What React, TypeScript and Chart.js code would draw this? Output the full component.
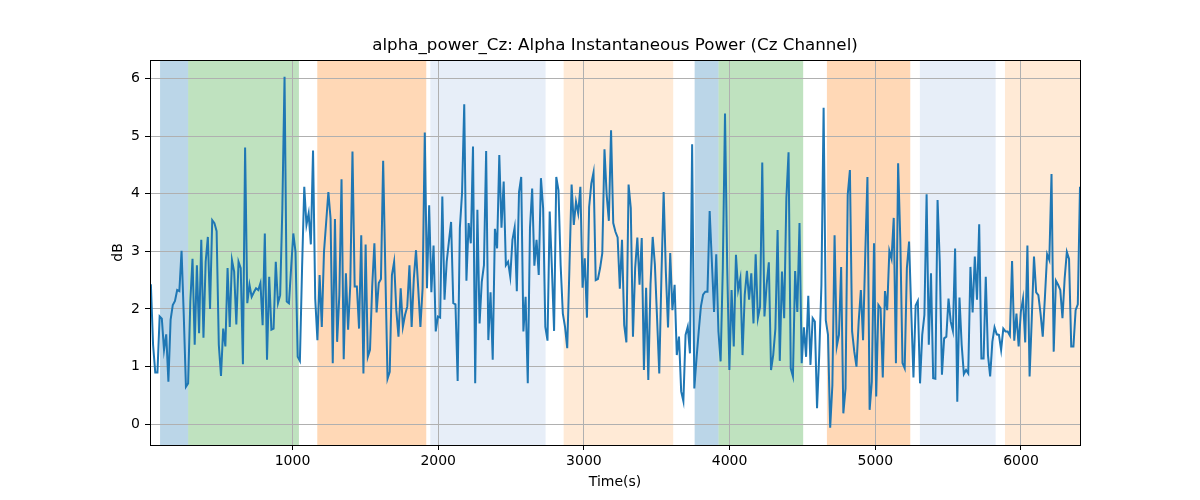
import { useEffect, useRef } from "react"
import { Chart, registerables } from "chart.js"

Chart.register(...registerables)

const TITLE = "alpha_power_Cz: Alpha Instantaneous Power (Cz Channel)"

// sample grid (seconds)
const X_MIN = 22
const START_TIME = 28
const STEP = 15.04

// alpha power (dB) left to right
const alphaPower = [
  2.43, 1.38, 0.9, 0.9, 1.87, 1.83, 1.29, 1.56, 0.74, 1.81, 2.07, 2.14, 2.33, 2.31, 3.01, 1.9, 0.65, 0.71, 2.13, 2.87, 1.38,
  2.76, 1.58, 3.2, 1.5, 2.82, 3.25, 2.0, 3.54, 3.49, 3.35, 1.38, 0.84, 1.66, 1.35, 2.71, 1.69, 2.85, 2.65, 1.73, 2.82,
  2.71, 1.04, 4.8, 2.1, 2.42, 2.21, 2.29, 2.36, 2.33, 2.45, 1.72, 3.31, 1.12, 2.56, 1.64, 1.66, 2.82, 2.1, 2.24, 3.75,
  6.03, 2.13, 2.1, 2.71, 3.31, 2.99, 1.17, 1.1, 2.71, 4.12, 3.46, 3.66,
  3.12, 4.75, 2.18, 1.46, 2.59, 1.69, 2.99, 3.51, 4.03, 3.57, 1.06, 3.56, 1.43, 2.24, 4.25, 1.13, 2.62, 1.64, 2.42, 4.73,
  2.39, 2.39, 1.66, 3.28, 0.88, 3.12, 1.17, 1.29, 2.39, 3.14, 1.94, 2.45, 2.52, 4.57, 2.65, 0.79, 0.91, 2.59, 2.82, 1.98,
  1.52, 2.36, 1.69, 1.9, 2.04, 2.76, 1.69, 2.53, 3.02, 2.36, 1.69, 2.36, 5.06, 2.36, 3.8, 2.29, 3.1, 1.61, 1.87, 1.85,
  3.95, 2.16, 2.82, 3.17, 3.51, 2.1, 2.08, 0.75, 3.4, 4.01, 5.55, 2.49, 3.49,
  3.14, 4.82, 0.71, 3.72, 1.75, 2.47, 2.76, 4.74, 1.46, 2.29, 1.12, 3.39, 3.05, 4.67, 3.41, 4.21, 2.76, 2.82, 2.56, 3.2,
  3.41, 2.31, 4.03, 4.29, 1.61, 2.21, 0.71, 3.4, 4.09, 2.75, 3.2, 2.59, 4.27, 3.75, 1.69, 1.45, 3.69, 2.71, 1.62, 4.29,
  4.06, 2.76, 1.92, 1.69, 1.32, 2.71, 4.16, 3.46, 3.86, 3.66, 4.12, 2.37, 2.88, 1.85, 3.77, 4.18, 4.37, 2.5, 2.52, 2.71,
  2.97, 4.77, 3.98, 3.53, 5.1, 3.49, 3.34, 3.24, 2.35, 3.2, 1.72, 1.42, 4.16,
  3.75, 1.52, 2.71, 3.24, 2.42, 3.23, 0.94, 2.37, 0.77, 2.42, 3.25, 2.77, 1.84, 0.88, 2.59, 4.03, 2.65, 1.68, 2.97, 1.98,
  2.42, 1.2, 1.52, 0.57, 0.4, 1.55, 1.69, 1.23, 4.86, 0.62, 1.14, 1.61, 2.04, 2.25, 2.3, 2.3, 3.7, 2.82, 1.95, 2.95,
  1.61, 1.09, 2.71, 5.39, 2.73, 0.94, 2.33, 1.35, 2.94, 2.33, 2.53, 1.2, 2.24, 2.66, 2.16, 2.62, 1.75, 2.95, 1.84, 2.04,
  4.54, 1.87, 2.42, 2.81, 0.94, 1.2, 1.66, 3.37, 1.1, 2.65, 1.84, 3.92, 4.72, 0.97,
  0.83, 2.66, 1.95, 3.49, 1.06, 1.68, 1.17, 2.23, 1.03, 1.84, 1.78, 0.28, 1.2, 2.42, 5.49, 1.8, 1.55, -0.06, 0.68, 3.28,
  1.35, 1.55, 2.73, 0.19, 0.62, 3.98, 4.41, 1.61, 1.26, 1.0, 1.78, 2.33, 1.46, 2.94, 4.29, 0.25, 0.74, 3.14, 0.48, 2.07,
  2.01, 0.81, 2.31, 1.98, 3.01, 2.87, 3.58, 1.06, 4.53, 3.2, 1.06, 0.97, 2.71, 3.17, 1.95, 0.81, 2.06, 2.14, 0.71, 1.55,
  1.9, 3.99, 1.38, 2.62, 0.8, 0.79, 3.89, 2.82, 0.86, 1.49, 1.52, 2.18,
  1.78, 1.62, 3.05, 0.39, 2.2, 1.38, 0.87, 0.94, 0.88, 2.73, 1.94, 2.91, 2.16, 3.47, 1.14, 1.14, 2.56, 1.2, 0.83, 1.43,
  1.68, 1.56, 1.55, 1.29, 1.66, 1.61, 1.61, 1.54, 2.83, 1.45, 1.92, 1.35, 1.95, 2.18, 1.42, 3.1, 0.83, 1.84, 2.91, 2.29,
  2.24, 1.92, 1.52, 2.21, 2.95, 2.85, 4.34, 1.26, 2.49, 2.42, 2.33, 1.84, 2.53, 2.99, 2.87, 1.35, 1.35, 1.98, 2.08, 4.12,
]

// shaded segments (seconds)
const spanStart = [91, 284, 1170, 1946, 2861, 3760, 3924, 4668, 5306, 5890]
const spanEnd = [284, 1044, 1918, 2737, 3613, 3924, 4505, 5240, 5826, 6500]
const spanKind = [0, 1, 2, 3, 4, 0, 1, 2, 3, 4]

const X_TICKS = [1000, 2000, 3000, 4000, 5000, 6000]
const Y_TICKS = [0, 1, 2, 3, 4, 5, 6]

const SPAN_COLORS = [
  "rgba(31, 119, 180, 0.3)",
  "rgba(44, 160, 44, 0.3)",
  "rgba(255, 127, 14, 0.3)",
  "rgba(174, 199, 232, 0.3)",
  "rgba(255, 187, 120, 0.3)",
]

const FONT = "'DejaVu Sans', sans-serif"

const spansPlugin = {
  id: "spans",
  beforeDraw(chart: Chart) {
    const { ctx, chartArea, scales } = chart
    const x = scales.x
    ctx.save()
    ctx.beginPath()
    ctx.rect(chartArea.left, chartArea.top, chartArea.right - chartArea.left, chartArea.bottom - chartArea.top)
    ctx.clip()
    spanStart.forEach((s, i) => {
      const x0 = x.getPixelForValue(s)
      const x1 = x.getPixelForValue(spanEnd[i])
      ctx.fillStyle = SPAN_COLORS[spanKind[i]]
      ctx.fillRect(x0, chartArea.top, x1 - x0, chartArea.bottom - chartArea.top)
    })
    ctx.restore()
  },
  afterDraw(chart: Chart) {
    const { ctx, chartArea } = chart
    ctx.save()
    ctx.strokeStyle = "#000"
    ctx.lineWidth = 1
    ctx.strokeRect(
      Math.round(chartArea.left) + 0.5,
      Math.round(chartArea.top) + 0.5,
      Math.round(chartArea.right - chartArea.left),
      Math.round(chartArea.bottom - chartArea.top)
    )
    ctx.fillStyle = "#000"
    ctx.font = `16.7px ${FONT}`
    ctx.textAlign = "center"
    ctx.textBaseline = "middle"
    ctx.fillText(TITLE, (chartArea.left + chartArea.right) / 2, 46)
    ctx.restore()
  },
}

export default function App() {
  const chartRef = useRef<HTMLCanvasElement>(null)
  const chartInstance = useRef<Chart | null>(null)

  useEffect(() => {
    document.body.style.margin = "0"
    if (!chartRef.current) return
    if (chartInstance.current) {
      chartInstance.current.destroy()
    }
    const ctx = chartRef.current.getContext("2d")
    if (!ctx) return

    const points = alphaPower.map((v, i) => ({ x: START_TIME + i * STEP, y: v }))
    const xMax = START_TIME + (alphaPower.length - 1) * STEP

    const tickFont = { family: FONT, size: 14 }

    chartInstance.current = new Chart(ctx, {
      type: "line",
      data: {
        datasets: [
          {
            data: points,
            borderColor: "#1f77b4",
            borderWidth: 2,
            pointRadius: 0,
            tension: 0,
            fill: false,
          },
        ],
      },
      options: {
        animation: false,
        responsive: true,
        maintainAspectRatio: false,
        layout: { padding: { top: 60, right: 120, left: 0, bottom: 0 } },
        plugins: {
          legend: { display: false },
          tooltip: { enabled: false },
          title: { display: false },
        },
        scales: {
          x: {
            type: "linear",
            min: X_MIN,
            max: xMax,
            afterBuildTicks: (scale) => {
              scale.ticks = X_TICKS.map((v) => ({ value: v }))
            },
            afterFit: (scale) => {
              scale.height = 55
            },
            grid: {
              color: "#b0b0b0",
              lineWidth: 1,
              tickColor: "#000",
              tickLength: 5,
            },
            border: { display: false },
            ticks: {
              color: "#000",
              font: tickFont,
              padding: 3,
              maxRotation: 0,
              autoSkip: false,
              callback: (v) => String(v),
            },
            title: {
              display: true,
              text: "Time(s)",
              color: "#000",
              font: tickFont,
              padding: { top: 0, bottom: 9 },
            },
          },
          y: {
            type: "linear",
            min: -0.36,
            max: 6.32,
            afterBuildTicks: (scale) => {
              scale.ticks = Y_TICKS.map((v) => ({ value: v }))
            },
            afterFit: (scale) => {
              scale.width = 150
            },
            grid: {
              color: "#b0b0b0",
              lineWidth: 1,
              tickColor: "#000",
              tickLength: 5,
            },
            border: { display: false },
            ticks: {
              color: "#000",
              font: tickFont,
              padding: 5,
              autoSkip: false,
              callback: (v) => String(v),
            },
            title: {
              display: true,
              text: "dB",
              color: "#000",
              font: tickFont,
              padding: { top: 110, bottom: 0 },
            },
          },
        },
      },
      plugins: [spansPlugin],
    })

    return () => {
      if (chartInstance.current) {
        chartInstance.current.destroy()
        chartInstance.current = null
      }
    }
  }, [])

  return (
    <div style={{ position: "relative", width: 1200, height: 500 }}>
      <canvas ref={chartRef} />
    </div>
  )
}
